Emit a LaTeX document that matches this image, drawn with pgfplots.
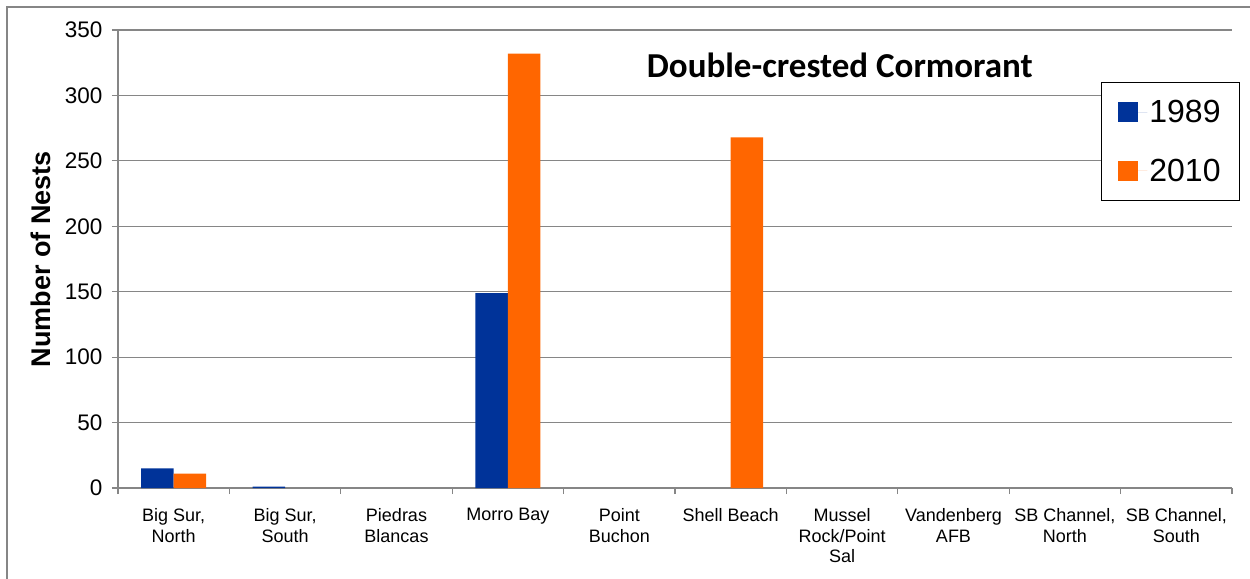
\documentclass[border=0pt]{standalone}
\usepackage{fontspec}
\setmainfont{Liberation Sans}
\newfontfamily\carlito{Carlito}
\usepackage{pgfplots}
\pgfplotsset{compat=1.18}
\definecolor{cblue}{RGB}{0,51,153}
\definecolor{corange}{RGB}{255,102,0}
\definecolor{cgray}{RGB}{134,134,134}
\begin{document}
\begin{tikzpicture}
\useasboundingbox (-118bp,-91bp) rectangle (1132bp,488bp);
\draw[cgray, line width=1.2bp] (-111bp,-95bp) -- (-111bp,481bp) -- (1136bp,481bp);
\begin{axis}[
  at={(0,0)}, anchor=south west,
  scale only axis, width=1114bp, height=458bp,
  xmin=0, xmax=10, ymin=0, ymax=350,
  ytick={0,50,100,150,200,250,300,350},
  xtick={0.5,1.5,2.5,3.5,4.5,5.5,6.5,7.5,8.5,9.5},
  xticklabels={{Big Sur,\\North},{Big Sur,\\South},{Piedras\\Blancas},{Morro Bay},{Point\\Buchon},{Shell Beach},{Mussel\\Rock/Point\\Sal},{Vandenberg\\AFB},{SB Channel,\\North},{SB Channel,\\South}},
  minor xtick={0,1,2,3,4,5,6,7,8,9,10},
  major x tick style={draw=none},
  minor x tick style={cgray, line width=1.2bp},
  major y tick style={cgray, line width=1.2bp},
  tick align=outside,
  major tick length=6bp, minor tick length=6bp,
  axis lines*=left,
  axis line style={cgray, line width=1.2bp},
  ymajorgrids,
  grid style={cgray, line width=1.2bp},
  /pgf/number format/assume math mode=true,
  yticklabel style={font=\fontsize{22.5bp}{26bp}\selectfont, xshift=-6bp},
  xticklabel style={font=\fontsize{18bp}{20.7bp}\selectfont, align=center, yshift=-11bp},
  every axis y label/.style={at={(axis description cs:-0.0691,0.5)}, rotate=90, anchor=center},
  ylabel={Number of Nests},
  ylabel style={font=\fontsize{27bp}{30bp}\selectfont\bfseries},
  ybar=0pt, bar width=32.5bp,
  restrict y to domain=0.5:400,
  legend style={at={(axis description cs:0.8824,0.8865)}, anchor=north west, draw=black, line width=0.8bp, inner xsep=17bp, inner ysep=16bp, row sep=30.5bp, font=\fontsize{32bp}{36bp}\selectfont},
  legend image code/.code={\fill[#1, draw=none] (0bp,-10bp) rectangle (20bp,10bp); \path (0bp,0bp) -- (29bp,0bp);},
]
\addplot[fill=cblue, draw=none] coordinates {(0.5,15) (1.5,1) (2.5,0) (3.5,149) (4.5,0) (5.5,0) (6.5,0) (7.5,0) (8.5,0) (9.5,0)};
\addplot[fill=corange, draw=none] coordinates {(0.5,11) (1.5,0) (2.5,0) (3.5,332) (4.5,0) (5.5,268) (6.5,0) (7.5,0) (8.5,0) (9.5,0)};
\legend{1989,2010}
\node[font=\carlito\bfseries\fontsize{35bp}{40bp}\selectfont] at (axis description cs:0.648,0.9236) {Double-crested Cormorant};
\end{axis}
\end{tikzpicture}
\end{document}
